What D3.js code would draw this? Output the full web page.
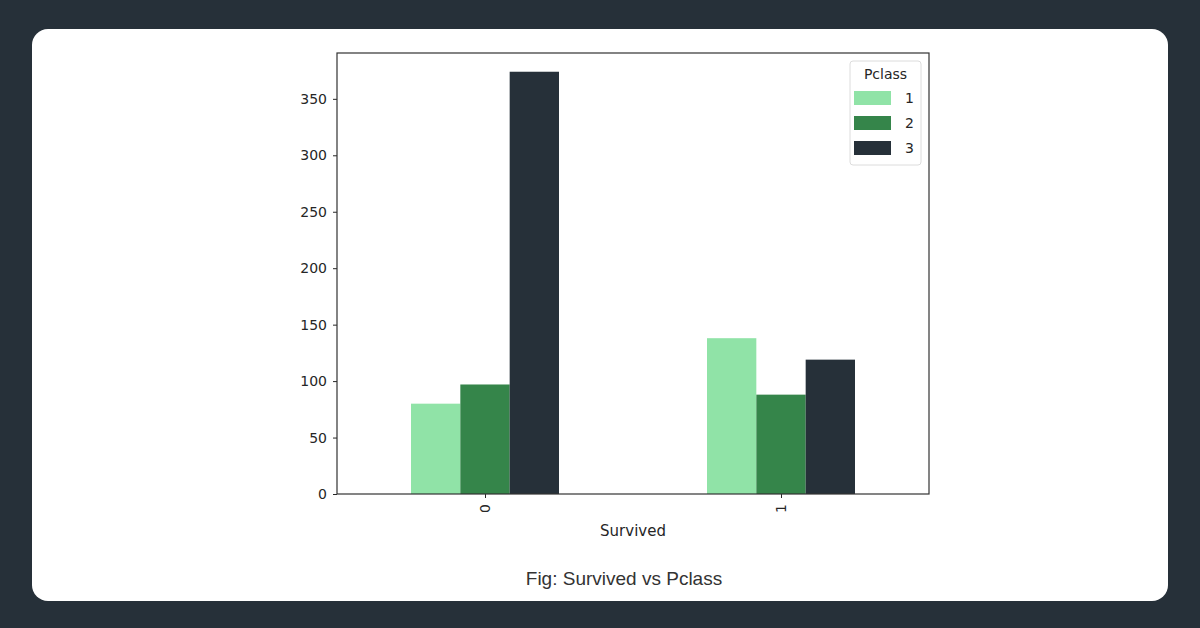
<!DOCTYPE html>
<html><head><meta charset="utf-8">
<script src="https://cdn.jsdelivr.net/npm/d3@7"></script>
<style>html,body{margin:0;padding:0;background:#263039;}svg{display:block;}</style>
</head><body>
<svg id="c" width="1200" height="628"></svg>
<script>
const categories = ["0", "1"];
const seriesNames = ["1", "2", "3"];
const class1 = [80, 138];
const class2 = [97, 88];
const class3 = [374, 119];
const yTicks = [0, 50, 100, 150, 200, 250, 300, 350];
const yDomainMax = 390.6;
const colors = ["#90e3a7", "#35854a", "#263039"];
const series = [class1, class2, class3];

const svg = d3.select("#c");
svg.append("rect").attr("width",1200).attr("height",628).attr("fill","#263039");
svg.append("rect").attr("x",32).attr("y",29).attr("width",1136).attr("height",572).attr("rx",16).attr("fill","#ffffff");

const L=337, R=929, T=53, B=494;
const x = d3.scaleLinear().domain([-0.5, 1.5]).range([L, R]);
const y = d3.scaleLinear().domain([0, yDomainMax]).range([B, T]);
const inner = d3.scaleBand().domain(seriesNames).range([-0.25, 0.25]);

const g = svg.append("g");
series.forEach((vals, si) => {
  g.selectAll(null).data(vals).enter().append("rect")
    .attr("x", (d,i) => x(i + inner(seriesNames[si])))
    .attr("width", x(inner.bandwidth()) - x(0))
    .attr("y", d => y(d))
    .attr("height", d => y(0) - y(d))
    .attr("fill", colors[si]);
});

const font = "DejaVu Sans, sans-serif";
const yAxis = svg.append("g").attr("transform",`translate(${L},0)`)
  .call(d3.axisLeft(y).tickValues(yTicks).tickSize(4).tickPadding(6));
yAxis.select(".domain").remove();
yAxis.selectAll("text").attr("font-family",font).attr("font-size",14).attr("fill","#262626");
yAxis.selectAll("line").attr("stroke","#262626");

const xAxis = svg.append("g").attr("transform",`translate(0,${B})`)
  .call(d3.axisBottom(x).tickValues([0,1]).tickFormat(i => categories[i]).tickSize(4).tickPadding(6));
xAxis.select(".domain").remove();
xAxis.selectAll("line").attr("stroke","#262626");
xAxis.selectAll("text").attr("font-family",font).attr("font-size",14).attr("fill","#262626")
  .attr("transform","rotate(-90)").attr("text-anchor","end").attr("dy","0.35em")
  .attr("y",0).attr("x",-10);

svg.append("rect").attr("x",L).attr("y",T).attr("width",R-L).attr("height",B-T)
  .attr("fill","none").attr("stroke","#333").attr("stroke-width",1.2);

svg.append("text").attr("x",(L+R)/2).attr("y",536).attr("text-anchor","middle")
  .attr("font-family",font).attr("font-size",15).attr("fill","#262626").text("Survived");

// legend
const lg = svg.append("g");
lg.append("rect").attr("x",850).attr("y",61).attr("width",71).attr("height",104).attr("rx",3)
  .attr("fill","#fff").attr("stroke","#dcdcdc");
lg.append("text").attr("x",885.5).attr("y",79).attr("text-anchor","middle")
  .attr("font-family",font).attr("font-size",14).attr("fill","#262626").text("Pclass");
seriesNames.forEach((s,i) => {
  const yy = 91 + i*25;
  lg.append("rect").attr("x",854).attr("y",yy).attr("width",37).attr("height",14).attr("fill",colors[i]);
  lg.append("text").attr("x",905).attr("y",yy+12).attr("font-family",font).attr("font-size",14)
    .attr("fill","#262626").text(s);
});

svg.append("text").attr("x",624).attr("y",585).attr("text-anchor","middle")
  .attr("font-family","Liberation Sans, Arial, sans-serif").attr("font-size",19).attr("fill","#333").text("Fig: Survived vs Pclass");
</script>
</body></html>
